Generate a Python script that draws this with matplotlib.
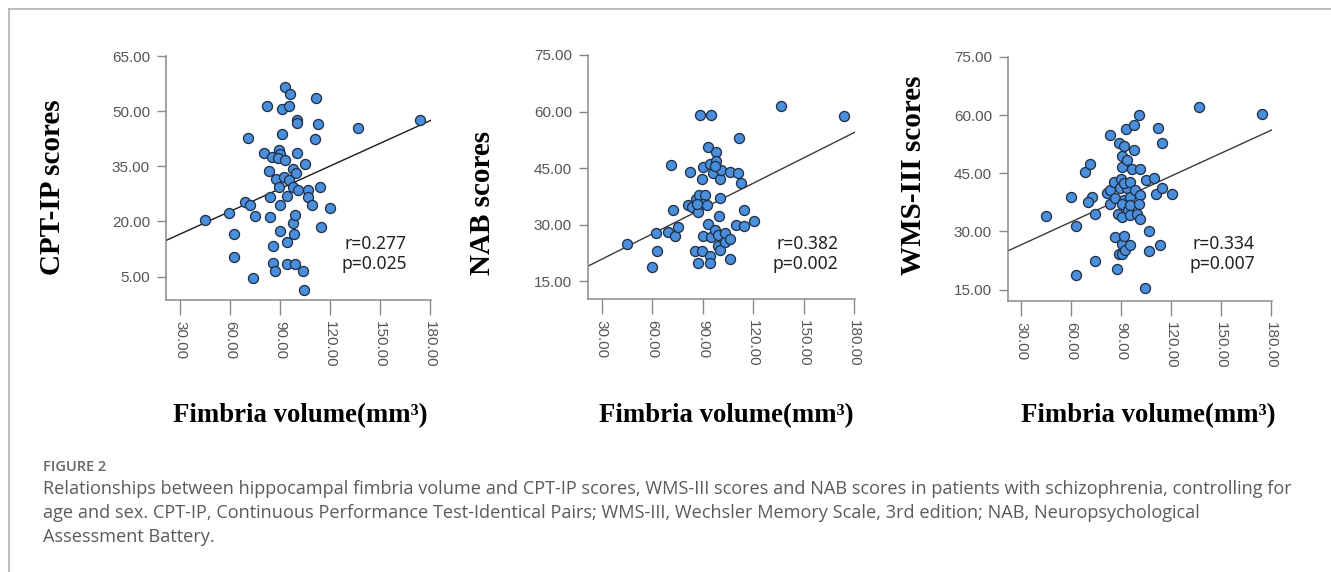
import matplotlib
matplotlib.use('Agg')
import matplotlib.pyplot as plt
from matplotlib.lines import Line2D
import numpy as np

# panel 1: CPT-IP
cpt_x = [45, 59.4, 62.6, 62.6, 71, 69, 72, 75, 74, 82, 80.4, 83.6, 84, 84, 85, 87.6,
         86, 86, 87.2, 89.6, 90, 89, 93, 89.6, 90, 90, 91, 91, 93, 96, 95.6, 92.6,
         94, 95.6, 94.4, 94.4, 97.6, 98, 98, 98.4, 99.2, 100, 100.4, 100, 99.6, 101,
         99, 103.6, 104.4, 105, 107, 107, 109, 111, 113, 111.6, 114, 114.4, 120,
         136.6, 174]
cpt_y = [20.5, 22.3, 16.5, 10.3, 42.6, 25.4, 24.5, 21.5, 4.5, 51.5, 38.7, 33.6, 26.6,
         21.2, 37.6, 31.5, 13.2, 8.6, 6.6, 39.5, 38.4, 37.2, 36.7, 29.5, 24.5, 17.5,
         50.5, 43.8, 56.7, 54.7, 51.4, 32.2, 26.8, 31.3, 14.5, 8.5, 34.2, 29.5, 19.5,
         16.5, 8.5, 47.6, 46.7, 38.7, 33.3, 28.6, 21.8, 6.5, 1.4, 35.7, 28.6, 26.6,
         24.5, 42.4, 46.5, 53.5, 29.5, 18.5, 23.6, 45.5, 47.5]

# panel 2: NAB
nab_x = [44.9, 59.6, 62.3, 62.7, 69.3, 71.3, 72.2, 73.3, 75.2, 82.2, 81.2, 83.8, 85.8,
         87.7, 87.1, 85.2, 87.1, 88.1, 89.7, 90.1, 91.1, 90.1, 90.1, 89.7, 93.1, 93.1,
         92.5, 94.1, 95.1, 94.5, 95.1, 96, 94.5, 98.1, 97.1, 99, 98.1, 100, 101, 100,
         99.6, 99, 100, 103, 103, 106, 106, 106.4, 109.6, 110.9, 111.6, 113, 114.3,
         114.3, 120.3, 136.3, 174, 86.5, 97.5]
nab_y = [24.9, 18.8, 27.8, 23.1, 28, 45.9, 33.8, 27.1, 29.4, 44.1, 35.3, 34.7, 36.8,
         37.9, 33.3, 22.9, 19.9, 59.1, 42, 45.3, 37.9, 35.6, 27.1, 22.9, 50.7, 30.3,
         35.1, 21.8, 59.1, 19.9, 26.7, 43.8, 46.1, 49.4, 28.7, 27.4, 46.8, 42.1, 44.6,
         37.1, 32.4, 24.3, 23.4, 25.3, 27.8, 44.1, 26.2, 20.9, 30, 43.8, 52.9, 41,
         29.7, 34, 31.1, 61.6, 58.7, 35.5, 45.5]

# panel 3: WMS-III
wms_x = [45, 60, 63, 63.2, 68.5, 71.1, 72.6, 70, 74.6, 74.5, 81.6, 83.6, 83.6, 83.6,
         85.6, 86.6, 86.6, 88.6, 87.5, 88.6, 88, 90, 90.6, 90.6, 89.6, 91.6, 90.6,
         90.6, 90.6, 90.6, 91.6, 91.6, 92.6, 93.2, 93.6, 93.6, 92, 94, 95.6, 95.6,
         95.2, 95.6, 95.6, 96.6, 97.6, 98, 98.6, 99.6, 100.6, 101.2, 101.2, 100.6,
         101.2, 104.1, 105.2, 106.6, 106.6, 109.6, 111.2, 112, 113.6, 114.6, 114.6,
         120.6, 136.9, 174.4]
wms_y = [33.9, 38.9, 31.4, 18.7, 45.3, 47.3, 38.9, 37.6, 34.6, 22.4, 40, 40.8, 54.8,
         37.2, 42.8, 38.5, 28.6, 24.1, 20.4, 52.8, 34.6, 43.6, 46.6, 49.4, 41.3, 38,
         37.2, 33.6, 26.7, 24.1, 52.1, 28.8, 25.3, 56.5, 48.4, 41.3, 42.5, 35.5, 42.8,
         38.9, 36.8, 34.2, 26.4, 46, 51, 57.4, 40.8, 34.6, 60, 46, 39.3, 37.2, 33.1,
         15.3, 43.2, 30, 25, 43.9, 39.6, 56.8, 26.4, 52.7, 41.1, 39.6, 62.1, 60.2]

# fitted lines (intercept, slope)
cpt_fit = (10.40, 0.2056)
nab_fit = (14.16, 0.2236)
wms_fit = (20.63, 0.197)

y_labels = ['CPT-IP scores', 'NAB scores', 'WMS-III scores']
stats = ['r=0.277\np=0.025', 'r=0.382\np=0.002', 'r=0.334\np=0.007']
x_ticks = [30, 60, 90, 120, 150, 180]
y_ticks = [[5, 20, 35, 50, 65], [15, 30, 45, 60, 75], [15, 30, 45, 60, 75]]

W, H = 1331, 572
fig = plt.figure(figsize=(W / 100, H / 100), dpi=100)

# pixel boxes: left, right, top, bottom ; limits
boxes = [(166, 431, 56, 300), (588, 855, 55, 299), (1008, 1272, 57, 301)]
ylims = [(-1.35, 65), (10.3, 75), (12.06, 75)]
xlims = [(21.6, 180.6), (21.7, 180.6), (22.2, 180.6)]
ylab_x = [52, 483, 913]
xlab_x = [300, 726, 1148]
stat_x = [407, 838, 1255]
line_cols = ['#1a1a1a', '#3a3a3a', '#3a3a3a']

data = [(cpt_x, cpt_y, cpt_fit), (nab_x, nab_y, nab_fit), (wms_x, wms_y, wms_fit)]

for i, (xs, ys, fit) in enumerate(data):
    l, r, t, b = boxes[i]
    ax = fig.add_axes([l / W, 1 - b / H, (r - l) / W, (b - t) / H])
    ax.set_xlim(xlims[i])
    ax.set_ylim(ylims[i])
    xx = np.array(xlims[i])
    ax.plot(xx, fit[0] + fit[1] * xx, color=line_cols[i], lw=1.0, zorder=2)
    ax.scatter(xs, ys, s=52, facecolor='#4a8fdb', edgecolor='#1f3048',
               linewidth=0.95, zorder=3, clip_on=False)
    for s in ['top', 'right']:
        ax.spines[s].set_visible(False)
    for s in ['left', 'bottom']:
        ax.spines[s].set_color('#8a8a8a')
        ax.spines[s].set_linewidth(1.1)
    ax.set_xticks(x_ticks)
    ax.set_xticklabels(['%.2f' % v for v in x_ticks], rotation=-90,
                       family='Liberation Sans', fontsize=11, color='#555555')
    ax.set_yticks(y_ticks[i])
    ax.set_yticklabels(['%.2f' % v for v in y_ticks[i]],
                       family='Liberation Sans', fontsize=11, color='#555555')
    ax.tick_params(axis='x', length=11, width=1.0, color='#8a8a8a', pad=4)
    ax.tick_params(axis='y', length=6.5, width=1.0, color='#8a8a8a', pad=5)
    ax.text(stat_x[i] / W, 1 - 254 / H, stats[i], transform=fig.transFigure,
            ha='right', va='center', fontsize=12.6, family='Noto Sans',
            color='#222222', linespacing=1.2)
    fig.text(ylab_x[i] / W, 1 - 275 / H, y_labels[i], rotation=90,
             ha='center', va='bottom', family='Liberation Serif',
             weight='bold', fontsize=21)
    fig.text(xlab_x[i] / W, 1 - 416 / H, 'Fimbria volume(mm³)', ha='center',
             va='center', family='Liberation Serif', weight='bold', fontsize=19.3)

# frame
fig.add_artist(Line2D([9 / W, 1], [1 - 9 / H, 1 - 9 / H], color='#b0b0b0', lw=1.2))
fig.add_artist(Line2D([9 / W, 9 / W], [0, 1 - 9 / H], color='#b0b0b0', lw=1.2))

# caption
fig.text(43 / W, 1 - 467 / H, 'FIGURE 2', family='Open Sans', weight='semibold',
         fontsize=10.5, color='#666666', va='center')
caption = ['Relationships between hippocampal fimbria volume and CPT-IP scores, WMS-III scores and NAB scores in patients with schizophrenia, controlling for',
           'age and sex. CPT-IP, Continuous Performance Test-Identical Pairs; WMS-III, Wechsler Memory Scale, 3rd edition; NAB, Neuropsychological',
           'Assessment Battery.']
for k, line in enumerate(caption):
    fig.text(43 / W, 1 - (489 + 23.8 * k) / H, line, family='Open Sans',
             fontsize=13.05, color='#5a5a5a', va='center')

fig.savefig('out.png', dpi=100)
